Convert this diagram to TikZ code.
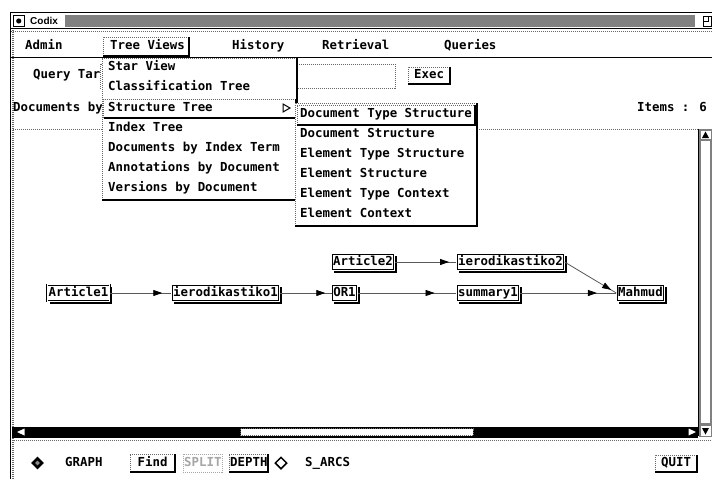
\documentclass[tikz,border=0pt]{standalone}
\usepackage{fontspec}
\newfontfamily\monofam{DejaVu Sans Mono}
\newfontfamily\titlefam{Liberation Sans}
\newcommand{\uifont}{\monofam\bfseries\fontsize{12.4}{14}\selectfont}
\newcommand{\titlefont}{\titlefam\bfseries\fontsize{10}{12}\selectfont}
\usetikzlibrary{arrows.meta,decorations.markings,shadows,shapes.geometric}

% raised Motif frame: light top/left, dark bottom/right
\newcommand{\bevelbox}[4]{%
  \draw[lite] (#1,#4) -- (#1,#2) -- (#3,#2);
  \draw[dark] (#3,#2) -- (#3,#4) -- (#1,#4);
}

\tikzset{
  ui/.style={font=\uifont, inner sep=0pt, anchor=west, text height=9pt, text depth=2.5pt},
  lite/.style={draw=black!60, line width=1pt, densely dotted},
  dark/.style={draw=black, line width=2pt},
  gnode/.style={draw, fill=white, font=\uifont, text height=9pt, text depth=2.5pt, inner xsep=1.5pt, inner ysep=2.5pt, line width=0.6pt, double=white, double distance=0.8pt, drop shadow={shadow xshift=2.5pt, shadow yshift=-2.5pt, fill=black, opacity=1}},
  link/.style={draw=black!65, line width=0.8pt, postaction={decorate}, decoration={markings, mark=at position #1 with {\arrow[black]{Triangle[length=9pt,width=6pt]}}}},
}

\begin{document}
\begin{tikzpicture}[x=1pt,y=-1pt]
   \useasboundingbox (0,0) rectangle (712,479);
   \fill[white] (0,0) rectangle (712,479);

   % window frame and title bar
   \draw[line width=1pt] (10.5,12.5) rectangle (716,28.5);
   \draw[line width=1pt] (10.5,12) -- (10.5,479);
   \draw[lite, line width=2pt] (12.5,30) -- (12.5,479);
   \draw[line width=1pt] (13.5,15.5) rectangle (24,26.5);
   \fill (18.75,21) circle (2.6);
   \node[font=\titlefont, anchor=west, inner sep=0pt] (title) at (30,21) {Codix};
   \fill[black!50] (65,15) rectangle (695,27);
   \draw[line width=1pt] (703.5,16.5) rectangle (711,26);
   \draw[line width=1pt] (703.5,21) -- (708,21) -- (708,16.5);
   \draw[lite] (11,31) -- (712,31);

   % menu bar
   \draw[line width=1.5pt] (11,57.5) -- (712,57.5);
   \foreach \x/\label in {25/Admin, 232/History, 322/Retrieval, 444/Queries} {\node[ui] at (\x,46) {\label};}
   \bevelbox{103}{37}{189}{56}
   \node[ui] (treeviews) at (110,46) {Tree Views};

   % query row
   \node[ui] (query) at (33,75) {Query Tar};
   \draw[lite] (100,64) rectangle (395,88);
   \bevelbox{408}{67}{450}{84}
   \node[ui] (exec) at (414,75.5) {Exec};
   \node[ui] (docsby) at (13,108) {Documents by};
   \node[ui] (items) at (637,108) {Items : 6};
   \draw[lite] (13,129) -- (698,129);

   % graph
   \node[gnode] (article1) at (78.5,293) {Article1};
   \node[gnode] (ierod1) at (225.5,293) {ierodikastiko1};
   \node[gnode] (or1) at (344.5,293) {OR1};
   \node[gnode] (summary1) at (488,293) {summary1};
   \node[gnode] (mahmud) at (640.5,293) {Mahmud};
   \node[gnode] (article2) at (363,262) {Article2};
   \node[gnode] (ierod2) at (510.5,262) {ierodikastiko2};
   \draw[link=0.85] (article1) -- (ierod1);
   \draw[link=0.88] (ierod1) -- (or1);
   \draw[link=0.78] (or1) -- (summary1);
   \draw[link=0.8] (summary1) -- (mahmud);
   \draw[link=0.88] (article2) -- (ierod2);
   \draw[link=0.9] (ierod2.east) -- (mahmud.west);

   % vertical scrollbar
   \draw[line width=1pt] (698,129) -- (698,436);
   \fill[black!50] (699,129) rectangle (712,437);
   \fill[white] (701,141) rectangle (710,423);
   \fill[white] (700.5,130.5) rectangle (710.5,139);
   \fill (705.5,131.5) -- (709,138) -- (702,138) -- cycle;
   \fill[white] (700.5,426) rectangle (710.5,435.5);
   \fill (705.5,434.5) -- (709,428) -- (702,428) -- cycle;

   % horizontal scrollbar
   \fill (12,426.5) rectangle (697.5,437.5);
   \draw[lite, fill=white] (240.5,428.5) rectangle (473,435.5);
   \fill[white] (17,432) -- (24.5,428.5) -- (24.5,435.5) -- cycle;
   \fill[white] (696,432) -- (688.5,428.5) -- (688.5,435.5) -- cycle;
   \draw[lite] (12,440) -- (712,440);

   % bottom bar
   \node[diamond, fill=black, minimum size=13pt, inner sep=0pt] (graphsel) at (37.5,463) {};
   \node[diamond, fill=black!45, minimum size=5pt, inner sep=0pt] at (37.5,463) {};
   \node[ui] (graph) at (65,463) {GRAPH};
   \bevelbox{130}{454}{175}{472}
   \node[ui] (find) at (137.5,463) {Find};
   \draw[black!35, densely dotted, line width=1pt] (183,454) rectangle (222,472);
   \node[ui, text=black!35] (split) at (184,463) {SPLIT};
   \bevelbox{229}{454}{268}{472}
   \node[ui] (depth) at (230,463) {DEPTH};
   \node[diamond, draw=black, line width=1.5pt, fill=white, minimum size=12pt, inner sep=0pt] (sarcsel) at (281,463) {};
   \node[ui] (sarcs) at (305,463) {S\_ARCS};
   \bevelbox{655}{455}{697}{472}
   \node[ui] (quit) at (661,463.5) {QUIT};

   % Tree Views menu
   \fill[white] (102,58) rectangle (298,200);
   \bevelbox{102}{58}{297}{200}
   \bevelbox{103.5}{99}{296}{118}
   \foreach \entry [count=\i from 0] in {Star View, Classification Tree, Structure Tree, Index Tree, Documents by Index Term, Annotations by Document, Versions by Document} {\pgfmathsetmacro\yy{67.5+20.2*\i} \node[ui] at (108,\yy) {\entry}; }
   \draw[line width=1pt] (283,104) -- (290,108) -- (283,112) -- cycle;

   % Structure Tree submenu
   \fill[white] (295,103) rectangle (477,226);
   \bevelbox{295}{103}{477}{226}
   \bevelbox{297}{105}{475}{125}
   \foreach \entry [count=\i from 0] in {Document Type Structure, Document Structure, Element Type Structure, Element Structure, Element Type Context, Element Context} {\pgfmathsetmacro\yy{114.5+19.9*\i} \node[ui] at (300,\yy) {\entry}; }
\end{tikzpicture}
\end{document}
